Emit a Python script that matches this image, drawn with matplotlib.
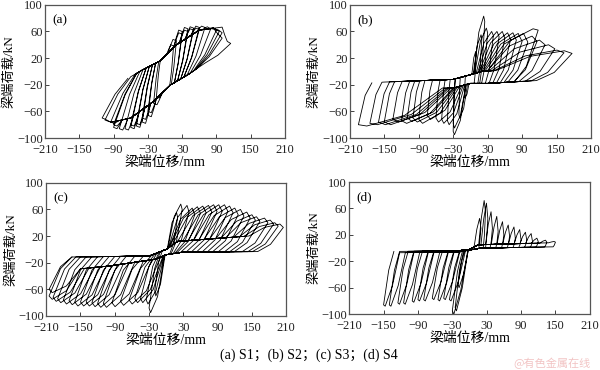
import numpy as np
import matplotlib
matplotlib.use("Agg")
import matplotlib.pyplot as plt

plt.rcParams['font.family'] = ['Liberation Serif', 'Noto Sans CJK SC']
plt.rcParams['axes.unicode_minus'] = True

# ---------------- data ----------------
x_ticks = [-210, -150, -90, -30, 30, 90, 150, 210]
y_ticks = [-100, -60, -20, 20, 60, 100]
panel_labels = ['(a)', '(b)', '(c)', '(d)']
x_label = '梁端位移/mm'
y_label = '梁端荷载/kN'
caption = '(a) S1；(b) S2；(c) S3；(d) S4'

# S1: per-cycle peak displacement / load (positive and negative half-cycles)
a_dp = [15, 20, 30, 30, 40, 40, 50, 50, 60, 60, 70, 80, 90, 95, 100, 100, 115]
a_fp = [40, 48, 62, 58, 66, 62, 67, 64, 68, 65, 68, 67, 66, 63, 62, 55, 45]
a_fe = [38, 46, 60, 56, 64, 60, 65, 62, 66, 63, 66, 64, 62, 60, 58, 50, 42]
a_dn = [-15, -20, -30, -30, -40, -40, -50, -50, -60, -60, -70, -80, -90, -90, -95, -105, -110]
a_fn = [-40, -50, -68, -62, -78, -72, -84, -80, -86, -82, -88, -88, -86, -82, -78, -75, -72]
a_fne = [-38, -48, -66, -60, -76, -70, -82, -78, -84, -80, -86, -86, -84, -80, -76, -73, -70]

# S2
b_dp = [10, 20, 25, 30, 40, 50, 60, 70, 80, 90, 100, 118, 116, 130, 147, 163, 177]
b_fp = [30, 55, 83, 65, 60, 60, 60, 58, 58, 57, 57, 64, 53, 47, 40, 32, 31]
b_fe = [28, 50, 75, 58, 54, 52, 50, 48, 47, 45, 44, 62, 45, 40, 34, 28, 27]
b_dn = [-10, -20, -30, -30, -40, -50, -60, -75, -90, -100, -110, -120, -135, -150, -160, -175, -195]
b_fn = [-40, -70, -95, -85, -80, -78, -76, -72, -78, -76, -75, -78, -76, -80, -80, -80, -82]
b_fne = [-38, -65, -90, -78, -74, -72, -70, -66, -72, -70, -70, -74, -72, -76, -76, -78, -80]

# S3
c_dp = [20, 28, 40, 50, 60, 70, 80, 89, 98, 108, 117, 126, 136, 147, 156, 164, 178, 188, 196, 205]
c_fp = [55, 68, 66, 62, 64, 65, 66, 67, 67, 67, 65, 62, 60, 56, 52, 49, 47, 44, 40, 38]
c_fe = [48, 60, 56, 52, 54, 55, 56, 57, 57, 57, 55, 52, 50, 47, 44, 42, 40, 38, 35, 33]
c_dn = [-20, -30, -35, -45, -55, -65, -80, -95, -110, -120, -130, -140, -150, -160, -170, -180, -190, -198, -205, -205]
c_fn = [-70, -95, -82, -80, -80, -82, -84, -86, -87, -87, -86, -85, -85, -85, -83, -82, -80, -78, -75, -65]
c_fne = [-62, -88, -76, -74, -74, -76, -78, -80, -81, -81, -80, -79, -79, -79, -77, -76, -74, -72, -70, -60]

# S4
d_dp = [20, 28, 32, 40, 50, 60, 70, 80, 90, 100, 110, 120, 135, 150]
d_fp = [45, 72, 68, 55, 48, 40, 35, 32, 28, 24, 22, 15, 12, 10]
d_fe = [30, 55, 45, 30, 25, 20, 18, 15, 12, 12, 10, 10, 9, 9]
d_dn = [-20, -25, -30, -35, -45, -55, -65, -80, -90, -100, -115, -125, -140, -150]
d_fn = [-60, -95, -100, -80, -78, -80, -78, -80, -80, -82, -85, -85, -88, -88]
d_fne = [-55, -90, -95, -78, -76, -78, -76, -78, -78, -80, -83, -83, -86, -86]

# ---------------- loop shape guides (pinched paths, styling only) ----------------
shapes = {
    'a': dict(GR=[(-220, -60), (-100, -28), (-40, 2), (-10, 15), (20, 40), (60, 62), (220, 80)],
              GL=[(-220, -100), (-60, -70), (-20, -45), (10, -20), (40, -5), (100, 30), (220, 50)],
              wp=(15, 0.8), kp=0.4, up=(45, 0.45), wn=(15, 0.8), kn=0.4, un=(45, 0.45),
              br=0.55, bu=0.4),
    'b': dict(GR=[(-220, -20), (-150, -16), (-30, -12), (0, -5), (20, 0), (220, 10)],
              GL=[(-220, -30), (-150, -25), (-30, -25), (0, -18), (30, -18), (150, -12), (220, -5)],
              wp=(200, 0.75), kp=0.1, up=(200, 0.35), wn=(200, 0.75), kn=0.1, un=(200, 0.12),
              br=0.72, bu=0.3),
    'c': dict(GR=[(-220, -12), (-30, -10), (0, 0), (20, 12), (220, 25)],
              GL=[(-220, -35), (-100, -25), (-20, -15), (0, -8), (30, -4), (220, -3)],
              wp=(60, 0.9), kp=0.1, up=(45, 0.7), wn=(55, 0.9), kn=0.1, un=(40, 0.65),
              br=0.72, bu=0.3),
    'd': dict(GR=[(-220, -6), (-20, -4), (0, -2), (15, 5), (220, 10)],
              GL=[(-220, -8), (-20, -6), (0, -3), (20, 0), (220, 3)],
              wp=(12, 0.6), kp=0.2, up=(4, 0.2), wn=(28, 0.9), kn=0.1, un=(18, 0.6),
              br=0.62, bu=0.35),
}


def gy(x, G):
    return float(np.interp(x, [p[0] for p in G], [p[1] for p in G]))


def width(spec, d):
    return min(spec[0], spec[1] * abs(d))


def build_path(dp, fp, fe, dn, fn, fne, s):
    GR, GL, br, bu = s['GR'], s['GL'], s['br'], s['bu']
    xs, ys = [0.0], [gy(0.0, GR)]
    xc = 0.0
    for i in range(len(dp)):
        # positive half-cycle
        wp = width(s['wp'], dp[i])
        xr = dp[i] - wp
        for gxp, gyp in GR:
            if xc < gxp < xr:
                xs.append(gxp); ys.append(gyp)
        if xr < xc:
            xr = xc
        yr = gy(xr, GR)
        xs.append(xr); ys.append(yr)
        xpk = dp[i] - s['kp'] * wp
        xs.append(xr + 0.5 * (xpk - xr)); ys.append(yr + br * (fp[i] - yr))
        xs.append(xpk); ys.append(fp[i])
        xs.append(dp[i]); ys.append(fe[i])
        xu = dp[i] - width(s['up'], dp[i])
        yu = gy(xu, GL)
        xs.append(xu + 0.5 * (dp[i] - xu)); ys.append(yu + bu * (fe[i] - yu))
        xs.append(xu); ys.append(yu)
        xc = xu
        # negative half-cycle
        wn = width(s['wn'], dn[i])
        xl = dn[i] + wn
        for gxp, gyp in reversed(GL):
            if xl < gxp < xc:
                xs.append(gxp); ys.append(gyp)
        if xl > xc:
            xl = xc
        yl = gy(xl, GL)
        xs.append(xl); ys.append(yl)
        xq = dn[i] + s['kn'] * wn
        xs.append(xl + 0.5 * (xq - xl)); ys.append(yl + br * (fn[i] - yl))
        xs.append(xq); ys.append(fn[i])
        xs.append(dn[i]); ys.append(fne[i])
        xv = dn[i] + width(s['un'], dn[i])
        yv = gy(xv, GR)
        xs.append(xv + 0.5 * (dn[i] - xv)); ys.append(yv + bu * (fne[i] - yv))
        xs.append(xv); ys.append(yv)
        xc = xv
    return xs, ys


panels = [
    ('a', a_dp, a_fp, a_fe, a_dn, a_fn, a_fne),
    ('b', b_dp, b_fp, b_fe, b_dn, b_fn, b_fne),
    ('c', c_dp, c_fp, c_fe, c_dn, c_fn, c_fne),
    ('d', d_dp, d_fp, d_fe, d_dn, d_fn, d_fne),
]

fig = plt.figure(figsize=(6.0, 3.7), dpi=100)
rects = [
    [0.075, 0.627, 0.400, 0.360],
    [0.583, 0.627, 0.402, 0.360],
    [0.077, 0.146, 0.400, 0.360],
    [0.582, 0.151, 0.401, 0.357],
]

for (key, dp, fp, fe, dn, fn, fne), rect, lab in zip(panels, rects, panel_labels):
    ax = fig.add_axes(rect)
    xs, ys = build_path(dp, fp, fe, dn, fn, fne, shapes[key])
    ax.plot(xs, ys, color='black', lw=0.6)
    ax.set_xlim(-210, 210)
    ax.set_ylim(-100, 100)
    ax.set_xticks(x_ticks)
    ax.set_yticks(y_ticks)
    ax.tick_params(direction='in', length=3, width=0.6, labelsize=9, colors='#222222')
    ax.tick_params(axis='x', pad=4)
    ax.tick_params(axis='y', pad=1.5)
    for sp in ax.spines.values():
        sp.set_color('#555555')
        sp.set_linewidth(0.9)
    ax.set_xlabel(x_label, fontsize=10, labelpad=0.5)
    ax.set_ylabel(y_label, fontsize=9.5, labelpad=1)
    ax.text(0.03, 0.93, lab, transform=ax.transAxes, fontsize=9.5, va='top', ha='left')

fig.text(0.515, 0.04, caption, ha='center', va='center', fontsize=10)
fig.text(0.92, 0.018, '@有色金属在线', ha='center', va='center', fontsize=8,
         color='#f2c4c4', family=['Noto Sans CJK SC', 'DejaVu Sans'])

fig.savefig('out.png', dpi=100)
